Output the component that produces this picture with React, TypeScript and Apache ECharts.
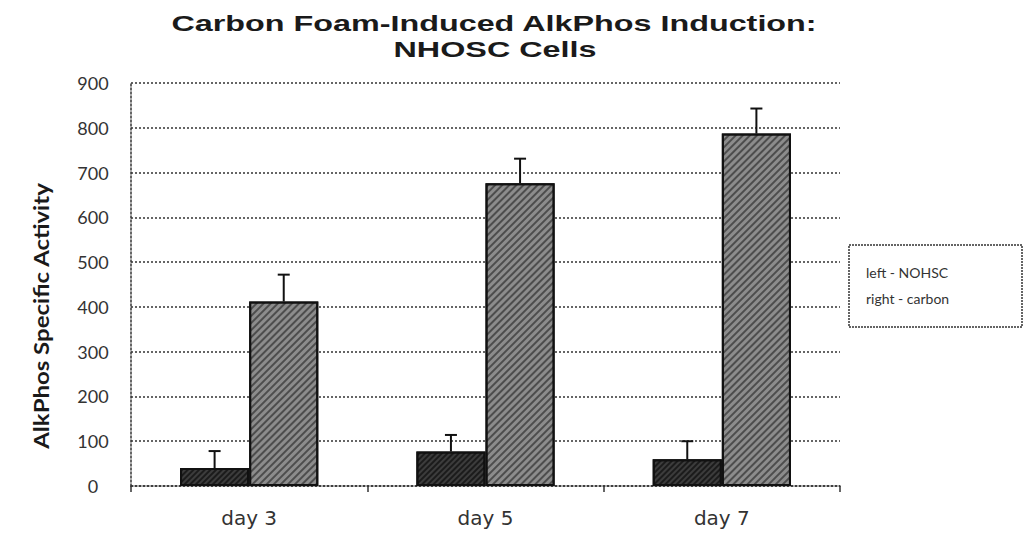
import React, { useEffect, useRef } from "react";
import * as echarts from "echarts";

const categories = ["day 3", "day 5", "day 7"];
const nohscValues = [40, 77, 60];
const nohscErrors = [38, 37, 40];
const carbonValues = [412, 676, 787];
const carbonErrors = [60, 55, 56];
const yTicks = { min: 0, max: 900, interval: 100 };
const titleLines = ["Carbon Foam-Induced AlkPhos Induction:", "NHOSC Cells"];
const yAxisTitle = "AlkPhos Specific Activity";
const legendLines = ["left - NOHSC", "right - carbon"];

const CAT_GAP = 0.415;

function errorSeries(values: number[], errors: number[], side: number) {
  return {
    type: "custom",
    silent: true,
    z: 10,
    data: values.map((v, i) => [i, v, v + errors[i]]),
    renderItem: (params: any, api: any) => {
      const idx = api.value(0);
      const base = api.coord([idx, api.value(1)]);
      const top = api.coord([idx, api.value(2)]);
      const catW = api.size([1, 0])[0];
      const barW = (catW * (1 - CAT_GAP)) / 2;
      const x = base[0] + side * barW / 2;
      const capHalf = 6;
      const style = { stroke: "#111", lineWidth: 2 };
      return {
        type: "group",
        children: [
          { type: "line", shape: { x1: x, y1: base[1], x2: x, y2: top[1] }, style },
          { type: "line", shape: { x1: x - capHalf, y1: top[1], x2: x + capHalf, y2: top[1] }, style },
        ],
      };
    },
  };
}

export default function App() {
  const ref = useRef<HTMLDivElement>(null);
  useEffect(() => {
    if (!ref.current) return;
    const chart = echarts.init(ref.current, null, { renderer: "svg" });
    const gridStyle = { color: "#333", type: [2, 2] as any, width: 1.5 };
    chart.setOption({
      animation: false,
      backgroundColor: "#fff",
      grid: { left: 131, right: 186, top: 83, bottom: 59 },
      xAxis: {
        type: "category",
        data: categories,
        boundaryGap: true,
        axisLine: { show: true, lineStyle: gridStyle },
        axisTick: { show: true, length: 6, lineStyle: { color: "#333", width: 1.5 } },
        axisLabel: { fontFamily: "DejaVu Sans", fontSize: 20, color: "#333", margin: 22 },
      },
      yAxis: {
        type: "value",
        min: yTicks.min,
        max: yTicks.max,
        interval: yTicks.interval,
        axisLine: { show: true, lineStyle: gridStyle },
        axisTick: { show: false },
        splitLine: { show: true, lineStyle: gridStyle },
        axisLabel: { fontFamily: "Lato", fontSize: 18, color: "#333", margin: 38, align: "center" },
      },
      series: [
        {
          type: "bar",
          name: "NOHSC",
          data: nohscValues,
          barGap: "0%",
          barCategoryGap: CAT_GAP * 100 + "%",
          itemStyle: {
            color: "#3c3c3c",
            borderColor: "#111",
            borderWidth: 2,
            decal: { symbol: "rect", dashArrayX: [1, 0], dashArrayY: [2, 2], rotation: -Math.PI / 4, color: "rgba(0,0,0,0.55)", symbolSize: 1 },
          },
        },
        {
          type: "bar",
          name: "carbon",
          data: carbonValues,
          itemStyle: {
            color: "#8c8c8c",
            borderColor: "#111",
            borderWidth: 2,
            decal: { symbol: "rect", dashArrayX: [1, 0], dashArrayY: [2, 3], rotation: -Math.PI / 4, color: "rgba(0,0,0,0.45)", symbolSize: 1 },
          },
        },
        errorSeries(nohscValues, nohscErrors, -1),
        errorSeries(carbonValues, carbonErrors, 1),
      ],
      graphic: [
        {
          type: "text", x: 494, y: 23, scaleX: 1.47,
          style: { text: titleLines[0], font: 'bold 22px "Liberation Sans"', fill: "#1a1a1a", textAlign: "center", textVerticalAlign: "middle" },
        },
        {
          type: "text", x: 495, y: 49, scaleX: 1.47,
          style: { text: titleLines[1], font: 'bold 22px "Liberation Sans"', fill: "#1a1a1a", textAlign: "center", textVerticalAlign: "middle" },
        },
        {
          type: "text", x: 41, y: 316, rotation: Math.PI / 2, scaleX: 1.2,
          style: { text: yAxisTitle, font: 'bold 20px "Lato"', fill: "#1a1a1a", textAlign: "center", textVerticalAlign: "middle" },
        },
        {
          type: "rect", shape: { x: 849, y: 245, width: 173, height: 82 },
          style: { fill: "#fff", stroke: "#333", lineWidth: 1.5, lineDash: [2, 1] },
        },
        {
          type: "text", x: 866, y: 272,
          style: { text: legendLines[0], font: '14px "Lato"', fill: "#333", textVerticalAlign: "middle" },
        },
        {
          type: "text", x: 866, y: 298,
          style: { text: legendLines[1], font: '14px "Lato"', fill: "#333", textVerticalAlign: "middle" },
        },
      ],
    });
    return () => chart.dispose();
  }, []);
  return <div ref={ref} style={{ width: 1026, height: 545, position: "absolute", left: 0, top: 0 }} />;
}
